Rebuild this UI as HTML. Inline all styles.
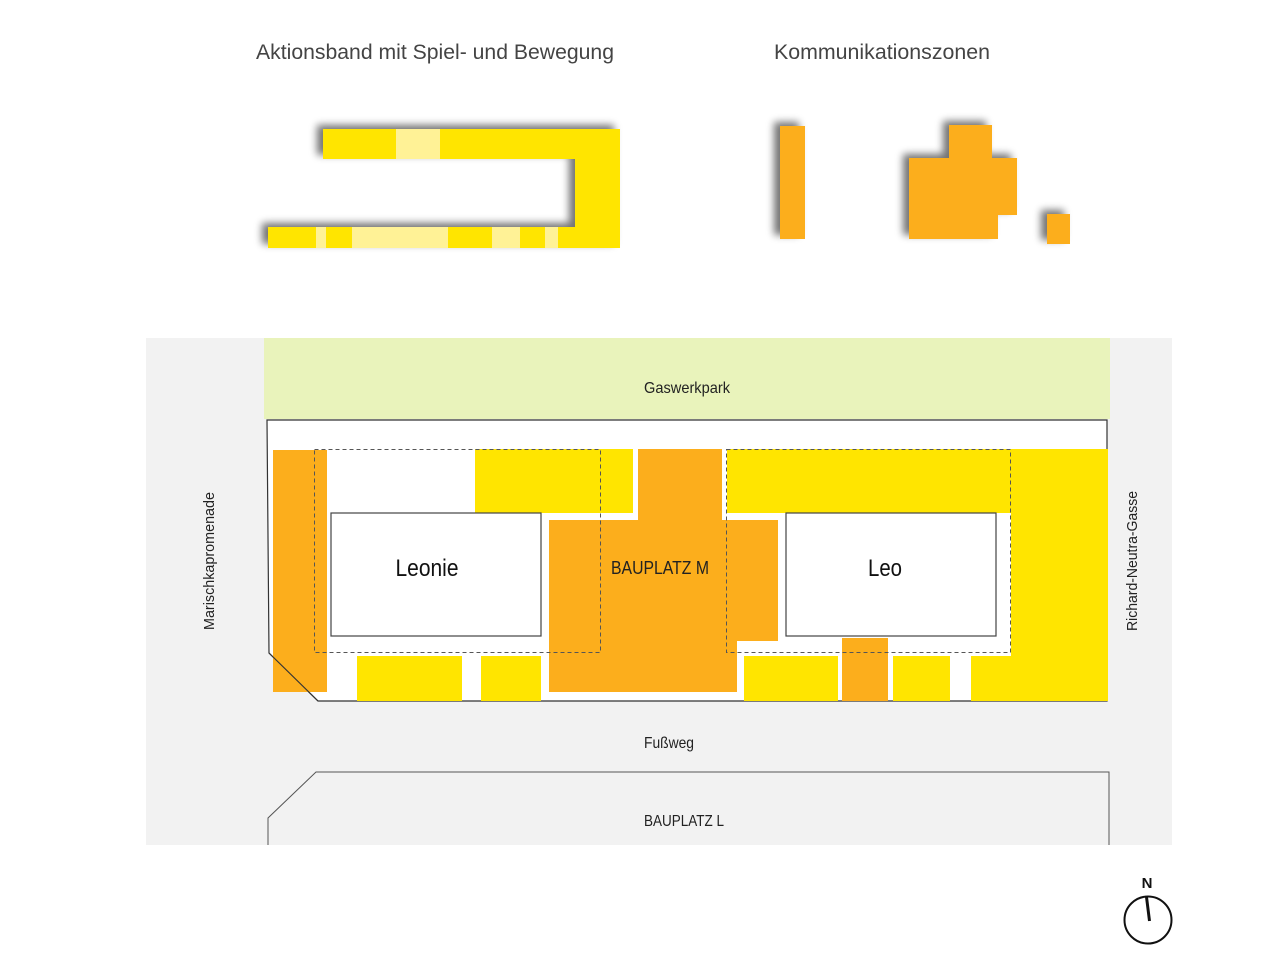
<!DOCTYPE html>
<html><head><meta charset="utf-8"><style>
html,body{margin:0;padding:0;background:#fff}
svg{display:block}
text{font-family:"Liberation Sans",sans-serif}
</style></head><body>
<svg width="1276" height="957" viewBox="0 0 1276 957" xmlns="http://www.w3.org/2000/svg">
<defs>
<filter id="sh" x="-20%" y="-40%" width="140%" height="180%">
<feGaussianBlur in="SourceAlpha" stdDeviation="4"/>
<feOffset dx="-6" dy="-4" result="b"/>
<feComponentTransfer><feFuncA type="linear" slope="0.55"/></feComponentTransfer>
<feMerge><feMergeNode/><feMergeNode in="SourceGraphic"/></feMerge>
</filter>
</defs>
<text x="435" y="59" font-size="21" fill="#444" text-anchor="middle" textLength="358" lengthAdjust="spacingAndGlyphs">Aktionsband mit Spiel- und Bewegung</text>
<text x="882" y="59" font-size="21" fill="#444" text-anchor="middle" textLength="216" lengthAdjust="spacingAndGlyphs">Kommunikationszonen</text>

<g filter="url(#sh)">
<path d="M323 129H620V248H268V227H575V159H323Z" fill="#ffe500"/>
</g>
<g fill="#fff296">
<rect x="396" y="129" width="44" height="30"/>
<rect x="316" y="227" width="10" height="21"/>
<rect x="352" y="227" width="96" height="21"/>
<rect x="492" y="227" width="28" height="21"/>
<rect x="545" y="227" width="13" height="21"/>
</g>

<g filter="url(#sh)" fill="#fcae1c">
<rect x="780" y="126" width="25" height="113"/>
<path d="M949 125H992V158H1017V215H998V239H909V158H949Z"/>
<rect x="1047" y="214" width="23" height="30"/>
</g>

<rect x="146" y="338" width="1026" height="507" fill="#f2f2f2"/>
<rect x="264" y="338" width="846" height="81" fill="#e9f3bb"/>
<text x="687" y="393" font-size="16" fill="#222" text-anchor="middle" textLength="86" lengthAdjust="spacingAndGlyphs">Gaswerkpark</text>

<path d="M267 420H1107V701H318L269 653Z" fill="#fff" stroke="#333" stroke-width="1.2"/>

<g fill="#fcae1c">
<rect x="273" y="450" width="54" height="242"/>
<rect x="638" y="449" width="84" height="72"/>
<rect x="549" y="520" width="229" height="121"/>
<rect x="549" y="640" width="188" height="52"/>
<rect x="842" y="638" width="46" height="63"/>
</g>
<g fill="#ffe500">
<rect x="475" y="449" width="158" height="64"/>
<rect x="727" y="449" width="381" height="64"/>
<rect x="1011" y="449" width="97" height="252"/>
<rect x="971" y="656" width="137" height="45"/>
<rect x="357" y="656" width="105" height="45"/>
<rect x="481" y="656" width="60" height="45"/>
<rect x="744" y="656" width="94" height="45"/>
<rect x="893" y="656" width="57" height="45"/>
</g>
<path d="M273 692L318 701" stroke="none"/>
<line x1="269" y1="653" x2="318" y2="701" stroke="#333" stroke-width="1.2"/>

<rect x="331" y="513" width="210" height="123" fill="#fff" stroke="#444" stroke-width="1.2"/>
<rect x="786" y="513" width="210" height="123" fill="#fff" stroke="#444" stroke-width="1.2"/>
<g fill="none" stroke="#555" stroke-width="1" stroke-dasharray="4,3">
<rect x="314.5" y="449.5" width="286" height="203"/>
<rect x="726.5" y="449.5" width="284" height="203"/>
</g>

<text x="427" y="576" font-size="24" fill="#111" text-anchor="middle" textLength="63" lengthAdjust="spacingAndGlyphs">Leonie</text>
<text x="885" y="576" font-size="24" fill="#111" text-anchor="middle" textLength="34" lengthAdjust="spacingAndGlyphs">Leo</text>
<text x="660" y="574" font-size="18" fill="#222" text-anchor="middle" textLength="98" lengthAdjust="spacingAndGlyphs">BAUPLATZ M</text>

<text transform="translate(214,561) rotate(-90)" font-size="15" fill="#222" text-anchor="middle" textLength="138" lengthAdjust="spacingAndGlyphs">Marischkapromenade</text>
<text transform="translate(1137,561) rotate(-90)" font-size="15" fill="#222" text-anchor="middle" textLength="140" lengthAdjust="spacingAndGlyphs">Richard-Neutra-Gasse</text>
<text x="669" y="748" font-size="16" fill="#222" text-anchor="middle" textLength="50" lengthAdjust="spacingAndGlyphs">Fußweg</text>

<path d="M268 845V818L316 772H1109V845" fill="none" stroke="#555" stroke-width="1"/>
<text x="684" y="826" font-size="16" fill="#222" text-anchor="middle" textLength="80" lengthAdjust="spacingAndGlyphs">BAUPLATZ L</text>

<text x="1147" y="888" font-size="15" font-weight="bold" fill="#111" text-anchor="middle">N</text>
<circle cx="1148" cy="920" r="23.5" fill="none" stroke="#111" stroke-width="2"/>
<line x1="1146.5" y1="897" x2="1149.5" y2="921" stroke="#111" stroke-width="3"/>
</svg>
</body></html>
